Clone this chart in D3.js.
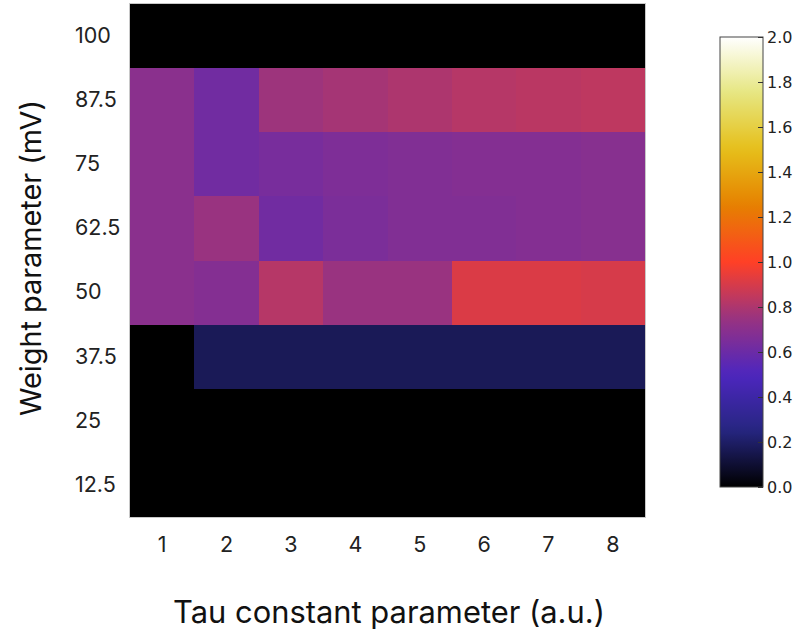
<!DOCTYPE html>
<html><head><meta charset="utf-8">
<script src="https://cdn.jsdelivr.net/npm/d3@7"></script>
<style>
html,body{margin:0;padding:0;background:#fff;}
svg{display:block;}
</style></head>
<body>
<svg id="chart" width="798" height="637"></svg>
<script>
// ---- data ----
const tauLabels = ["1","2","3","4","5","6","7","8"];
const weightLabels = ["100","87.5","75","62.5","50","37.5","25","12.5"];
const row100  = [0,0,0,0,0,0,0,0];
const row87_5 = [0.70,0.62,0.76,0.78,0.80,0.82,0.83,0.84];
const row75   = [0.70,0.62,0.64,0.66,0.67,0.68,0.68,0.69];
const row62_5 = [0.70,0.75,0.62,0.65,0.67,0.67,0.68,0.69];
const row50   = [0.70,0.68,0.82,0.75,0.75,0.91,0.91,0.90];
const row37_5 = [0,0.17,0.17,0.17,0.17,0.17,0.17,0.17];
const row25   = [0,0,0,0,0,0,0,0];
const row12_5 = [0,0,0,0,0,0,0,0];
const rows = [row100,row87_5,row75,row62_5,row50,row37_5,row25,row12_5];
const colorbarTicks = [0,0.2,0.4,0.6,0.8,1.0,1.2,1.4,1.6,1.8,2.0];

// CMRmap-like colormap stops
const cmapPos = [0,0.125,0.25,0.375,0.5,0.625,0.75,0.875,1];
const cmapCol = ["rgb(0,0,0)","rgb(38,38,128)","rgb(77,38,191)","rgb(153,51,128)","rgb(255,64,38)","rgb(230,128,0)","rgb(230,191,26)","rgb(230,230,128)","rgb(255,255,255)"];

const vmin = 0, vmax = 2;
const cmap = d3.scaleLinear().domain(cmapPos).range(cmapCol).interpolate(d3.interpolateRgb).clamp(true);
const color = v => cmap((v - vmin) / (vmax - vmin));

const svg = d3.select("#chart");
const font = "Inter, 'Open Sans', Roboto, sans-serif";

const x = d3.scaleBand().domain(tauLabels).range([130, 645]);
const y = d3.scaleBand().domain(weightLabels).range([4, 517]);

const cells = [];
rows.forEach((r, i) => r.forEach((v, j) => cells.push({w: weightLabels[i], t: tauLabels[j], v})));

svg.append("g").attr("shape-rendering", "crispEdges").selectAll("rect").data(cells).join("rect")
  .attr("x", d => x(d.t))
  .attr("y", d => y(d.w))
  .attr("width", x.bandwidth() + 1)
  .attr("height", y.bandwidth() + 1)
  .attr("fill", d => color(d.v));

svg.append("rect")
  .attr("x", 129.5).attr("y", 3.5).attr("width", 516).attr("height", 514)
  .attr("fill", "none").attr("stroke", "#c8c8c8").attr("stroke-width", 1);

// axes
const yAxis = svg.append("g").attr("transform", "translate(130,0)")
  .call(d3.axisLeft(y).tickSize(0).tickPadding(0));
yAxis.select(".domain").remove();
yAxis.selectAll("text")
  .attr("x", -55).attr("text-anchor", "start")
  .attr("font-family", font).attr("font-size", 21.5).attr("fill", "#222");

const xAxis = svg.append("g").attr("transform", "translate(0,517)")
  .call(d3.axisBottom(x).tickSize(0).tickPadding(20));
xAxis.select(".domain").remove();
xAxis.selectAll("text")
  .attr("font-family", font).attr("font-size", 21.5).attr("fill", "#222");

function fitText(sel, target) {
  const w = sel.node().getComputedTextLength();
  const fs = parseFloat(sel.attr("font-size"));
  if (w > 0) sel.attr("font-size", (fs * target / w).toFixed(2));
}

const xt = svg.append("text")
  .attr("x", 389).attr("y", 623)
  .attr("text-anchor", "middle")
  .attr("font-family", font).attr("font-size", 27).attr("fill", "#111")
  .text("Tau constant parameter (a.u.)");
fitText(xt, 432);

const yt = svg.append("text")
  .attr("transform", "translate(41,258) rotate(-90)")
  .attr("text-anchor", "middle")
  .attr("font-family", font).attr("font-size", 27).attr("fill", "#111")
  .text("Weight parameter (mV)");
fitText(yt, 316);

// colorbar
const cbX = 720, cbW = 43, cbTop = 37, cbBot = 487;
const defs = svg.append("defs");
const grad = defs.append("linearGradient").attr("id", "cbgrad")
  .attr("x1", 0).attr("y1", 1).attr("x2", 0).attr("y2", 0);
d3.range(0, 1.0001, 0.02).forEach(p => {
  grad.append("stop").attr("offset", p).attr("stop-color", cmap(p));
});
svg.append("rect")
  .attr("x", cbX).attr("y", cbTop).attr("width", cbW).attr("height", cbBot - cbTop)
  .attr("fill", "url(#cbgrad)").attr("stroke", "#444").attr("stroke-width", 1);

const cbScale = d3.scaleLinear().domain([vmin, vmax]).range([cbBot, cbTop]);
const cbAxis = svg.append("g").attr("transform", `translate(${cbX + cbW},0)`)
  .call(d3.axisRight(cbScale).tickValues(colorbarTicks).tickFormat(d3.format(".1f")).tickSize(-5).tickPadding(9));
cbAxis.select(".domain").remove();
cbAxis.selectAll("line").attr("stroke", "#333");
cbAxis.selectAll("text")
  .attr("x", 4)
  .attr("font-family", "'DejaVu Sans', sans-serif").attr("font-size", 16).attr("fill", "#222");
</script>
</body></html>
